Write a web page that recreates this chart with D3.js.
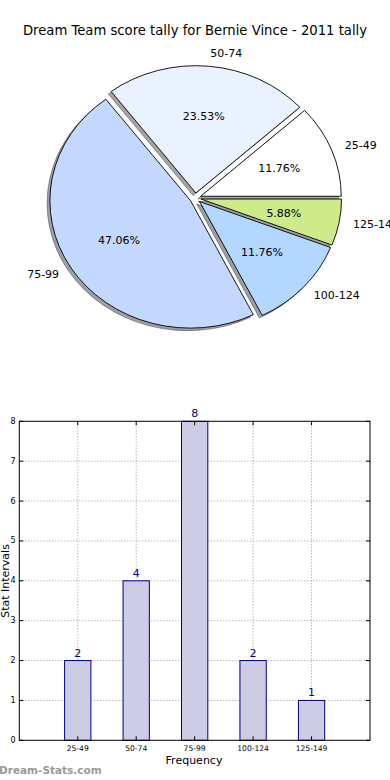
<!DOCTYPE html>
<html><head><meta charset="utf-8">
<script src="https://cdn.jsdelivr.net/npm/d3@7"></script>
<style>body{margin:0;background:#fff}svg{display:block}text{font-family:"DejaVu Sans",sans-serif}</style>
</head><body>
<svg id="c" width="390" height="780"></svg>
<script>
const categories = ["25-49","50-74","75-99","100-124","125-149"];
const counts = [2,4,8,2,1];
const sliceColors = ["#ffffff","#eaf2ff","#c4d8ff","#b3d7ff","#ceea8a"];
const yTicks = [0,1,2,3,4,5,6,7,8];
const titleText = "Dream Team score tally for Bernie Vince - 2011 tally";

const svg = d3.select("#c");
svg.append("rect").attr("width",390).attr("height",780).attr("fill","#fff");

// ---------- Pie ----------
svg.append("text").attr("x",195).attr("y",30).attr("text-anchor","middle")
  .attr("dominant-baseline","central").attr("font-size",13.2).text(titleText);

const cx = 195.4, cy = 198.1, rx = 140.6, ry = 127.3, explode = 0.04;
const total = d3.sum(counts);
const pie = d3.pie().sort(null).startAngle(Math.PI/2).endAngle(Math.PI/2 - 2*Math.PI);
const arcs = pie(counts);
const arc = d3.arc().innerRadius(0).outerRadius(1);
const pg = svg.append("g");

function off(d, k){ const m=(d.startAngle+d.endAngle)/2; return [rx*k*Math.sin(m), -ry*k*Math.cos(m)]; }

// shadows
arcs.forEach((d,i)=>{
  const [ox,oy] = off(d, explode);
  const c = d3.rgb(sliceColors[i]);
  const sc = d3.rgb(c.r*0.3,c.g*0.3,c.b*0.3);
  pg.append("path").attr("d",arc(d))
    .attr("transform",`translate(${cx+ox-0.02*rx},${cy+oy+0.02*ry}) scale(${rx},${ry})`)
    .attr("fill",sc).attr("fill-opacity",0.5).attr("stroke",sc).attr("stroke-opacity",0.5)
    .attr("stroke-width",1).attr("vector-effect","non-scaling-stroke");
});
arcs.forEach((d,i)=>{
  const [ox,oy] = off(d, explode);
  pg.append("path").attr("d",arc(d))
    .attr("transform",`translate(${cx+ox},${cy+oy}) scale(${rx},${ry})`)
    .attr("fill",sliceColors[i]).attr("stroke","#000").attr("stroke-width",0.9)
    .attr("stroke-linejoin","round").attr("vector-effect","non-scaling-stroke");
});
arcs.forEach((d,i)=>{
  const m=(d.startAngle+d.endAngle)/2;
  const [lx,ly] = off(d, explode+1.1);
  pg.append("text").attr("x",cx+lx).attr("y",cy+ly)
    .attr("text-anchor", Math.sin(m)>0 ? "start":"end")
    .attr("dominant-baseline","central").attr("font-size",11).text(categories[i]);
  const [px,py] = off(d, explode+0.6);
  pg.append("text").attr("x",cx+px).attr("y",cy+py).attr("text-anchor","middle")
    .attr("dominant-baseline","central").attr("font-size",11)
    .text((counts[i]/total*100).toFixed(2)+"%");
});

// ---------- Bar chart ----------
const x = d3.scaleLinear().domain([0,6]).range([19.3,370]);
const y = d3.scaleLinear().domain([0,8]).range([740.3,421.3]);
const bw = 0.45;
const g = svg.append("g");
// grid
g.selectAll(".vg").data(d3.range(1,categories.length+1)).join("line")
  .attr("x1",d=>x(d)).attr("x2",d=>x(d)).attr("y1",y(0)).attr("y2",y(8))
  .attr("stroke","#999").attr("stroke-width",1).attr("stroke-dasharray","1,2");
g.selectAll(".hg").data(yTicks.slice(1,-1)).join("line")
  .attr("x1",x(0)).attr("x2",x(6)).attr("y1",d=>y(d)).attr("y2",d=>y(d))
  .attr("stroke","#999").attr("stroke-width",1).attr("stroke-dasharray","1,2");
// bars
g.selectAll(".bar").data(counts).join("rect")
  .attr("x",(d,i)=>x(i+1-bw/2)).attr("width",(d,i)=>x(i+1+bw/2)-x(i+1-bw/2))
  .attr("y",d=>y(d)).attr("height",d=>y(0)-y(d))
  .attr("fill","#ccccE4").attr("stroke","#000080").attr("stroke-width",1);
g.selectAll(".vl").data(counts).join("text")
  .attr("x",(d,i)=>x(i+1)).attr("y",d=>y(d)-4).attr("text-anchor","middle")
  .attr("font-size",11).attr("fill","#000080").text(d=>d);
// frame
g.append("rect").attr("x",x(0)).attr("y",y(8)).attr("width",x(6)-x(0)).attr("height",y(0)-y(8))
  .attr("fill","none").attr("stroke","#000").attr("stroke-width",1);
// ticks
yTicks.forEach(t=>{
  g.append("line").attr("x1",x(0)).attr("x2",x(0)+4).attr("y1",y(t)).attr("y2",y(t)).attr("stroke","#000");
  g.append("line").attr("x1",x(6)-4).attr("x2",x(6)).attr("y1",y(t)).attr("y2",y(t)).attr("stroke","#000");
  g.append("text").attr("x",15.5).attr("y",y(t)).attr("text-anchor","end")
    .attr("dominant-baseline","central").attr("font-size",8).text(t);
});
categories.forEach((c,i)=>{
  g.append("line").attr("x1",x(i+1)).attr("x2",x(i+1)).attr("y1",y(0)).attr("y2",y(0)-4).attr("stroke","#000");
  g.append("line").attr("x1",x(i+1)).attr("x2",x(i+1)).attr("y1",y(8)).attr("y2",y(8)+4).attr("stroke","#000");
  g.append("text").attr("x",x(i+1)).attr("y",748).attr("text-anchor","middle")
    .attr("dominant-baseline","central").attr("font-size",7.6).text(c);
});
g.append("text").attr("x",194).attr("y",760).attr("text-anchor","middle")
  .attr("dominant-baseline","central").attr("font-size",11).text("Frequency");
g.append("text").attr("transform","translate(8.5,581) rotate(-90)").attr("text-anchor","middle")
  .attr("font-size",11).text("Stat Intervals");
svg.append("text").attr("x",-1).attr("y",770).attr("dominant-baseline","central")
  .attr("font-size",10.5).attr("font-weight","bold").attr("fill","#999").text("Dream-Stats.com");
</script>
</body></html>
